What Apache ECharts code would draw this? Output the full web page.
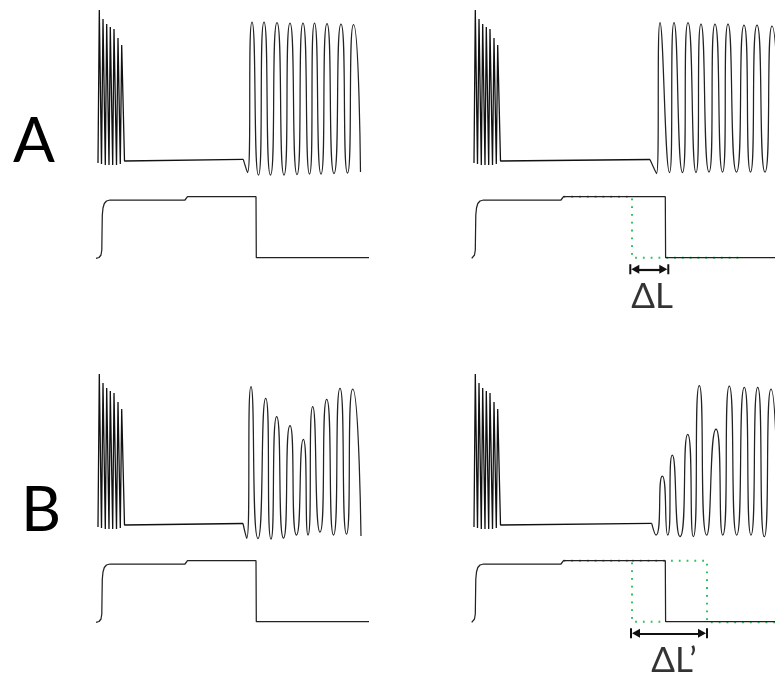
<!DOCTYPE html>
<html><head><meta charset="utf-8">
<script src="https://cdn.jsdelivr.net/npm/echarts@6/dist/echarts.min.js"></script>
<style>html,body{margin:0;padding:0;background:#fff}#c{width:775px;height:676px}</style>
</head><body><div id="c"></div>
<script>
// ---------- DATA (time in a.u., potential / stimulus in a.u.) ----------
const panelLabels = ['A', 'B'];
const deltaLabels = ['\u0394L', '\u0394L\u2019'];

// initial fast burst (identical in all four panels)
const burst = [[3,15],[4.3,168],[6.5,14],[8,159],[10.3,13],[11.7,154],[14,13],[15.3,151],[17.7,13],[19,149],[21.5,13],[23,140],[25.3,14],[26.7,133],[29.5,17]];

// quiescent period after the burst
const restAL = [[30,17.3],[148.3,18.7]];
const restAR = [[29.7,17.5],[179,18.5]];
const restBL = [[30,18],[148,18.5]];
const restBR = [[29.7,18.3],[180.7,18.7]];

// oscillations (peaks and troughs)
const oscAL = [[148.3,18.7],[152.5,5.5],[157,156],[163.5,3],[169,156],[175.5,3],[182,155.5],[189,3],[195,155],[202,3.5],[208,155],[214.5,4],[219.5,155],[226,4],[232,154.5],[239,4.5],[246,154],[252.5,5],[258.5,153.5],[265.5,6]];
const oscAR = [[179,18.5],[185.5,4.5],[189,155.5],[198.5,5.5],[203,155.5],[211.5,5.5],[217,155.5],[225,5.5],[230,154],[238,6],[244,154],[251.5,6],[257,154],[265.5,6],[273,153],[279.5,6],[286,153],[294,6],[301,152],[308,6]];
const oscBL = [[148,18.5],[151.7,3.7],[156,155.3],[163,3.5],[170.7,143.7],[176,3],[181.7,125.3],[188.5,4],[195,116.3],[201.5,7],[208.3,102.7],[213,7],[217.7,135.3],[225,10],[231.7,142.7],[238.5,7],[245,153.7],[251.5,8],[257.7,153],[266,6]];
const oscBR = [[180.7,18.7],[185,7],[191.3,66],[196.7,7],[201.3,87],[209,5.3],[216.7,107.7],[222.3,5.3],[228.3,156.3],[235.7,7],[245,113],[251.7,7],[258.3,156],[265.7,7],[273.3,154.7],[280,7],[286.7,154.7],[293.3,5.3],[300,153],[307,6]];

// stimulus traces
const stimRiseL = [[1,6.7],[4,7.5],[6,10],[6.8,15],[7,30],[7.3,50],[8,57],[9.3,61.5],[11.5,64],[15,65]];
const stimRiseR = [[0.7,6.7],[2,7.5],[3.5,10],[4.3,15],[4.5,30],[4.8,50],[5.5,57],[6.8,61.5],[9,64],[12.5,65]];
const stimStep = [[90,65],[91,66.5],[92.5,68.3]];
const stimOffL = [[161,68.3],[161.3,7.3],[274,7.3]];
const stimOffR = [[194.3,68.3],[194.6,7.3],[304,7.3]];

// reference (green dotted) stimuli
const refA = [[92.5,68.3],[161,68.3],[161,7.3],[272,7.3]];
const refB1 = [[92.5,68.3],[161,68.3],[161,7.3],[194.3,7.3]];
const refB2 = [[161,68.3],[236,68.3],[236,6.8],[304,6.8]];

// delta-L brackets [from, to] and label anchor
const deltaA = [163.3,193.3];
const deltaB = [164,232];
const deltaLabelA = [181,-32];
const deltaLabelB = [203,-32];

// ---------- CHART ----------
const TRACE = '#222';
const GREEN = '#2fc05e';
const panels = [
  {left:95,  width:280, xMax:280, top:8,   bot:190, rest:restAL, osc:oscAL, stim:stimRiseL.concat(stimStep, stimOffL)},
  {left:471, width:304, xMax:304, top:8,   bot:190, rest:restAR, osc:oscAR, stim:stimRiseR.concat(stimStep, stimOffR), refs:[refA], delta:deltaA, label:deltaLabelA, text:deltaLabels[0]},
  {left:95,  width:280, xMax:280, top:372, bot:554, rest:restBL, osc:oscBL, stim:stimRiseL.concat(stimStep, stimOffL)},
  {left:471, width:304, xMax:304, top:372, bot:554, rest:restBR, osc:oscBR, stim:stimRiseR.concat(stimStep, stimOffR), refs:[refB1, refB2], delta:deltaB, label:deltaLabelB, text:deltaLabels[1]}
];

const grid = [], xAxis = [], yAxis = [], series = [];
const barArrow = 'path://M0,0H10V2H0Z M5,2L9.5,10L0.5,10Z';

panels.forEach((p, i) => {
  const g1 = 2*i, g2 = 2*i + 1;
  grid.push({left:p.left, top:p.top, width:p.width, height:170});
  grid.push({left:p.left, top:p.bot, width:p.width, height:120});
  xAxis.push({type:'value', gridIndex:g1, min:0, max:p.xMax, show:false});
  xAxis.push({type:'value', gridIndex:g2, min:0, max:p.xMax, show:false});
  yAxis.push({type:'value', gridIndex:g1, min:0, max:170, show:false});
  yAxis.push({type:'value', gridIndex:g2, min:-45, max:75, show:false});

  const base = {type:'line', symbol:'none', silent:true, animation:false};
  series.push(Object.assign({}, base, {xAxisIndex:g1, yAxisIndex:g1, data:burst.concat(p.rest),
    lineStyle:{color:'#111', width:1.3}}));
  series.push(Object.assign({}, base, {xAxisIndex:g1, yAxisIndex:g1, data:p.osc, smooth:0.85,
    lineStyle:{color:TRACE, width:1.25}}));
  (p.refs || []).forEach(r => {
    series.push(Object.assign({}, base, {xAxisIndex:g2, yAxisIndex:g2, data:r, z:3,
      lineStyle:{color:GREEN, width:2, type:[1.8,6]}}));
  });
  const stim = Object.assign({}, base, {xAxisIndex:g2, yAxisIndex:g2, data:p.stim,
    lineStyle:{color:TRACE, width:1.25}});
  if (p.delta) {
    stim.markLine = {
      silent:true, animation:false, symbol:[barArrow, barArrow], symbolSize:[10,10],
      lineStyle:{color:'#111', width:2.2, type:'solid'},
      label:{show:false}, emphasis:{disabled:true},
      data:[[{coord:[p.delta[0], -4.3]}, {coord:[p.delta[1], -4.3]}]]
    };
    series.push({type:'scatter', xAxisIndex:g2, yAxisIndex:g2, silent:true, animation:false,
      symbolSize:1, itemStyle:{color:'rgba(0,0,0,0)'}, data:[p.label],
      label:{show:true, position:'inside', formatter:p.text, fontSize:35, fontWeight:'normal',
        fontFamily:'Lato, "DejaVu Sans", sans-serif', color:'#000'}});
  }
  series.push(stim);
});

const chart = echarts.init(document.getElementById('c'), null, {renderer:'canvas'});
chart.setOption({
  animation:false,
  backgroundColor:'#fff',
  title:[
    {text:panelLabels[0], left:8, top:106, padding:5, textStyle:{fontSize:62, fontWeight:'normal', fontFamily:'Lato, sans-serif', color:'#000'}},
    {text:panelLabels[1], left:16, top:475, padding:5, textStyle:{fontSize:62, fontWeight:'normal', fontFamily:'Lato, sans-serif', color:'#000'}}
  ],
  grid, xAxis, yAxis, series
});
</script></body></html>
